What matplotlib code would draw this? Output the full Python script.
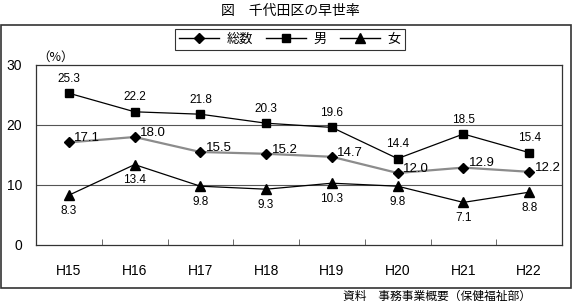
import matplotlib.pyplot as plt
from matplotlib.lines import Line2D
from matplotlib.patches import Rectangle

plt.rcParams['font.family'] = ['Noto Sans CJK JP', 'DejaVu Sans']

years = ['H15', 'H16', 'H17', 'H18', 'H19', 'H20', 'H21', 'H22']
total = [17.1, 18.0, 15.5, 15.2, 14.7, 12.0, 12.9, 12.2]
male = [25.3, 22.2, 21.8, 20.3, 19.6, 14.4, 18.5, 15.4]
female = [8.3, 13.4, 9.8, 9.3, 10.3, 9.8, 7.1, 8.8]

num_font = ['Liberation Sans', 'DejaVu Sans']

fig = plt.figure(figsize=(5.72, 3.01), dpi=100)
ax = fig.add_axes([36 / 572, 56 / 301, 526 / 572, 180 / 301])

x = list(range(len(years)))
ax.plot(x, total, color='#8c8c8c', lw=1.6, marker='D', ms=5.5,
        mfc='black', mec='black', zorder=3)
ax.plot(x, male, color='black', lw=0.9, marker='s', ms=6,
        mfc='black', mec='black', zorder=3)
ax.plot(x, female, color='black', lw=0.9, marker='^', ms=7,
        mfc='black', mec='black', zorder=3)

for i, v in enumerate(male):
    ax.annotate(f'{v:.1f}', (i, v), xytext=(0, 6), textcoords='offset points',
                ha='center', va='bottom', fontsize=8.5, family=num_font)
for i, v in enumerate(female):
    ax.annotate(f'{v:.1f}', (i, v), xytext=(0, -7), textcoords='offset points',
                ha='center', va='top', fontsize=8.5, family=num_font)
for i, v in enumerate(total):
    ax.annotate(f'{v:.1f}', (i, v), xytext=(4, 3), textcoords='offset points',
                ha='left', va='center', fontsize=9.5, family=num_font)

ax.set_xlim(-0.5, len(years) - 0.5)
ax.set_ylim(0, 30)
ax.set_yticks([0, 10, 20, 30])
ax.set_yticklabels(['0', '10', '20', '30'], family=num_font, fontsize=10)
ax.tick_params(axis='y', length=0, pad=10)
ax.set_xticks(x)
ax.set_xticklabels(years, family=num_font, fontsize=10)
ax.tick_params(axis='x', which='major', length=0, pad=14)
ax.set_xticks([i + 0.5 for i in x[:-1]], minor=True)
ax.tick_params(axis='x', which='minor', direction='in', length=4, color='#555')
for y in [10, 20]:
    ax.axhline(y, color='#555555', lw=0.8, zorder=1)
for s in ax.spines.values():
    s.set_color('#333333')
    s.set_linewidth(0.9)

fig.text(37 / 572, 1 - 57 / 301, '（%）', fontsize=9, ha='left', va='center')

handles = [Line2D([], [], color='black', lw=1, marker='D', ms=5.5),
           Line2D([], [], color='black', lw=1, marker='s', ms=6),
           Line2D([], [], color='black', lw=1, marker='^', ms=7)]
leg = fig.legend(handles, ['総数', '男', '女'], loc='center',
                 bbox_to_anchor=(290 / 572, 1 - 39.5 / 301), ncol=3,
                 fontsize=9.5, frameon=True, fancybox=False, edgecolor='black',
                 handlelength=3, handletextpad=0.6, columnspacing=1.0,
                 borderpad=0.3)
leg.get_frame().set_linewidth(0.8)

fig.text(290 / 572, 1 - 11 / 301, '図　千代田区の早世率', fontsize=10,
         ha='center', va='center')

fig.patches.append(Rectangle((1 / 572, 13 / 301), 570 / 572, 263 / 301,
                             transform=fig.transFigure, fill=False,
                             edgecolor='#333333', lw=1.2))

fig.text(343 / 572, 1 - 289.5 / 301, '資料　事務事業概要（保健福祉部）',
         fontsize=8.5, ha='left', va='top')

fig.savefig('out.png', dpi=100)
